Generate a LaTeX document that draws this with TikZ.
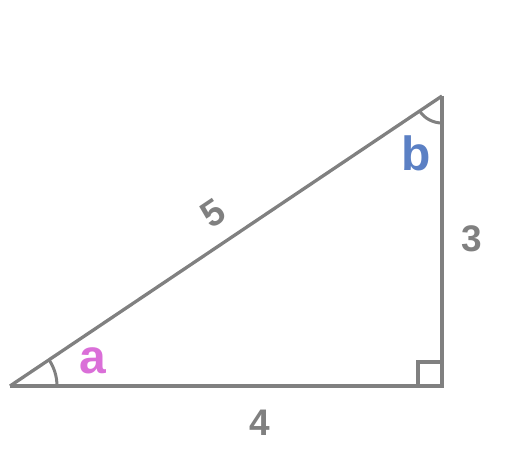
\documentclass[tikz,border=0pt]{standalone}
\usepackage{fontspec}
\setmainfont{Liberation Sans}
\usetikzlibrary{calc}
\definecolor{edgegray}{HTML}{808080}
\definecolor{anglea}{HTML}{DA6FD8}
\definecolor{angleb}{HTML}{5B80C4}
\tikzset{
  side/.style={draw=edgegray, line width=3.6pt},
  anglearc/.style={draw=edgegray, line width=3pt},
  sidelabel/.style={text=edgegray, font=\fontsize{37}{37}\selectfont\bfseries, inner sep=0pt, anchor=base},
  anglelabel/.style={font=\fontsize{48}{48}\selectfont\bfseries, inner sep=0pt, anchor=base}
}
\begin{document}
\begin{tikzpicture}[x=1pt,y=1pt]
\useasboundingbox (0,0) rectangle (518,462);
\coordinate (A) at (10,76);
\coordinate (C) at (442,76);
\coordinate (B) at (442,366);
\coordinate (Ct) at (442,74.2);
% angle arcs
\draw[anglearc] ($(A)+(47,0)$) arc[start angle=0, end angle=33.8, radius=47];
\draw[anglearc] ($(B)+(0,-27)$) arc[start angle=270, end angle=213.8, radius=27];
% right angle
\coordinate (R1) at (418,76);
\coordinate (R2) at (418,100);
\coordinate (R3) at (442,100);
\draw[side, line width=3.4pt] (R1) -- (R2) -- (R3);
% triangle sides
\draw[side] (A) -- (C);
\draw[side] (B) -- (Ct);
\draw[side, line width=3.3pt] (A) -- (B);
% labels
\node[sidelabel, rotate=33.8, anchor=center] (l5) at (213,249) {5};
\node[sidelabel] (l3) at (472,210) {3};
\node[sidelabel] (l4) at (260,27) {4};
\node[anglelabel, text=anglea] (la) at (93,88) {a};
\node[anglelabel, text=angleb] (lb) at (416,291) {b};
\end{tikzpicture}
\end{document}
